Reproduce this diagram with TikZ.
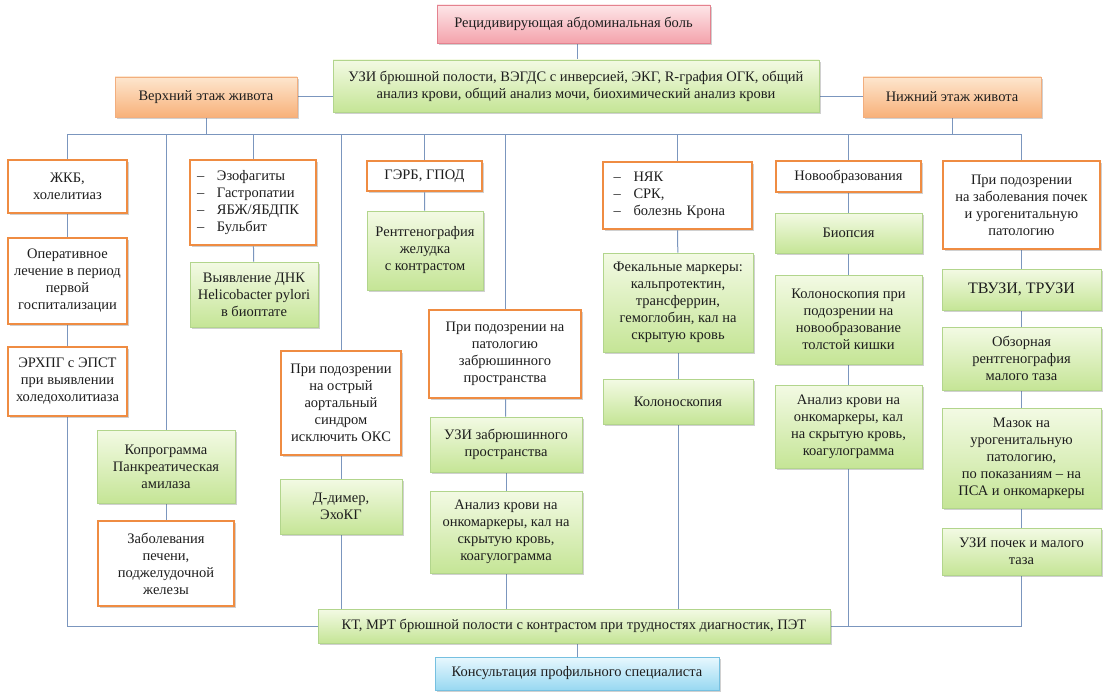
\documentclass[tikz,border=0pt]{standalone}
\usepackage{fontspec}
\setmainfont{Liberation Serif}
\usetikzlibrary{shadows,backgrounds}
\definecolor{conncol}{HTML}{7B96BE}
\definecolor{orbord}{HTML}{EF8C42}
\definecolor{grtop}{HTML}{F3FAE4}
\definecolor{grbot}{HTML}{C5E596}
\definecolor{grbord}{HTML}{B2D58C}
\definecolor{ortop}{HTML}{FDE6CE}
\definecolor{orbot}{HTML}{F8B17A}
\definecolor{orfbord}{HTML}{F2AE7E}
\definecolor{rdtop}{HTML}{FDE6E8}
\definecolor{rdbot}{HTML}{F4A3AC}
\definecolor{rdbord}{HTML}{E4828F}
\definecolor{bltop}{HTML}{E8F8FE}
\definecolor{blbot}{HTML}{98D8F1}
\definecolor{blbord}{HTML}{76C0E0}
\definecolor{txt}{HTML}{1E1E1E}
\pgfdeclarelayer{bg}
\pgfsetlayers{bg,background,main}
\newcommand\bx[7]{%
 \pgfmathsetmacro\bw{#5-#3}\pgfmathsetmacro\bh{#6-#4}%
 \pgfmathsetmacro\bcx{(#3+#5)/2}\pgfmathsetmacro\bcy{(#4+#6)/2}%
 \node[#2, minimum width=\bw pt, minimum height=\bh pt] (#1) at (\bcx,\bcy) {#7};}
\newcommand\itm[1]{\makebox[20pt][l]{–}#1}
\begin{document}
\begin{tikzpicture}[x=1pt,y=-1pt,
  every node/.style={font=\fontsize{14.5}{17}\selectfont, text=txt, inner sep=2pt, align=center},
  shd/.style={drop shadow={shadow xshift=2pt,shadow yshift=-2pt,opacity=0.3,fill=black!60}},
  diag/.style={draw=orbord, line width=2.8pt, fill=white, shd},
  exam/.style={draw=grbord, line width=0.8pt, top color=grtop, bottom color=grbot, shd},
  zone/.style={draw=orfbord, line width=0.8pt, top color=ortop, bottom color=orbot, shd},
  head/.style={draw=rdbord, line width=0.8pt, top color=rdtop, bottom color=rdbot, shd},
  final/.style={draw=blbord, line width=0.8pt, top color=bltop, bottom color=blbot, shd},
  lst/.style={diag, align=left, text width=#1pt},
  conn/.style={draw=conncol, line width=1pt}]
\useasboundingbox (0,0) rectangle (1105,698);
\begin{pgfonlayer}{bg}
\fill[white] (0,0) rectangle (1105,698);
\end{pgfonlayer}
\coordinate (bus) at (0,135);
\bx{head}{head}{437}{5}{710}{43}{Рецидивирующая абдоминальная боль}
\bx{main}{exam}{333}{60}{819}{112}{УЗИ брюшной полости, ВЭГДС с инверсией, ЭКГ, R-графия ОГК, общий\\анализ крови, общий анализ мочи, биохимический анализ крови}
\bx{verh}{zone}{115}{77}{297}{117}{Верхний этаж живота}
\bx{nizh}{zone}{863}{77}{1041}{117}{Нижний этаж живота}
% column 1
\bx{zhkb}{diag}{8}{160}{127}{213}{ЖКБ,\\холелитиаз}
\bx{oper}{diag}{8}{238}{127}{324}{Оперативное\\лечение в период\\первой\\госпитализации}
\bx{erhpg}{diag}{8}{347}{127}{416}{ЭРХПГ с ЭПСТ\\при выявлении\\холедохолитиаза}
% column 2
\bx{kopro}{exam}{97}{430}{235}{503}{Копрограмма\\Панкреатическая\\амилаза}
\bx{zabol}{diag}{98}{521}{234}{606}{Заболевания\\печени,\\поджелудочной\\железы}
% column 3
\bx{ezof}{lst=112}{190}{160}{316}{245}{\itm{Эзофагиты}\\\itm{Гастропатии}\\\itm{ЯБЖ/ЯБДПК}\\\itm{Бульбит}}
\bx{dnk}{exam}{190}{262}{318}{327}{Выявление ДНК\\Helicobacter pylori\\в биоптате}
% column 4
\bx{aort}{diag}{281}{351}{401}{455}{При подозрении\\на острый\\аортальный\\синдром\\исключить ОКС}
\bx{ddim}{exam}{280}{479}{402}{534}{Д-димер,\\ЭхоКГ}
% column 5
\bx{gerb}{diag}{367}{161}{482}{191}{ГЭРБ, ГПОД}
\bx{rentg}{exam}{367}{211}{483}{290}{Рентгенография\\желудка\\с контрастом}
% column 6
\bx{zabr}{diag}{429}{310}{581}{398}{При подозрении на\\патологию\\забрюшинного\\пространства}
\bx{uzizabr}{exam}{430}{417}{582}{472}{УЗИ забрюшинного\\пространства}
\bx{anal1}{exam}{430}{491}{582}{573}{Анализ крови на\\онкомаркеры, кал на\\скрытую кровь,\\коагулограмма}
% column 7
\bx{nyak}{lst=128}{603}{162}{752}{229}{\itm{НЯК}\\\itm{СРК,}\\\itm{болезнь Крона}}
\bx{fekal}{exam}{603}{253}{753}{352}{Фекальные маркеры:\\кальпротектин,\\трансферрин,\\гемоглобин, кал на\\скрытую кровь}
\bx{kolono}{exam}{603}{379}{753}{424}{Колоноскопия}
% column 8
\bx{novo}{diag}{776}{161}{921}{192}{Новообразования}
\bx{biop}{exam}{775}{213}{922}{253}{Биопсия}
\bx{kolpri}{exam}{775}{275}{922}{364}{Колоноскопия при\\подозрении на\\новообразование\\толстой кишки}
\bx{anal2}{exam}{775}{385}{922}{468}{Анализ крови на\\онкомаркеры, кал\\на скрытую кровь,\\коагулограмма}
% column 9
\bx{pochki}{diag}{943}{161}{1100}{249}{При подозрении\\на заболевания почек\\и урогенитальную\\патологию}
\bx{tvuzi}{exam, font=\fontsize{16}{18}\selectfont}{942}{269}{1101}{310}{ТВУЗИ, ТРУЗИ}
\bx{obzor}{exam}{942}{327}{1101}{390}{Обзорная\\рентгенография\\малого таза}
\bx{mazok}{exam}{942}{408}{1101}{508}{Мазок на\\урогенитальную\\патологию,\\по показаниям – на\\ПСА и онкомаркеры}
\bx{uzipoch}{exam}{942}{528}{1101}{575}{УЗИ почек и малого\\таза}
% bottom
\bx{kt}{exam}{318}{609}{830}{643}{КТ, МРТ брюшной полости с контрастом при трудностях диагностик, ПЭТ}
\bx{kons}{final}{435}{657}{719}{690}{Консультация профильного специалиста}
% connectors (behind the boxes)
\begin{pgfonlayer}{background}
\draw[conn] (head.south -| kons.north) -- (main.north -| kons.north);
\draw[conn] (verh.east) -- (verh.east -| main.west);
\draw[conn] (main.east |- nizh.west) -- (nizh.west);
\draw[conn] (zhkb.north) |- (pochki.north |- bus) -- (pochki.north);
\draw[conn] (verh.south) -- (verh.south |- bus);
\draw[conn] (nizh.south) -- (nizh.south |- bus);
\foreach \n in {kopro,ezof,aort,gerb,zabr,nyak,novo}
  \draw[conn] (\n.north) -- (\n.north |- bus);
\draw[conn] (zhkb) -- (oper);
\draw[conn] (oper) -- (erhpg);
\draw[conn] (erhpg.south) |- (kt.west);
\draw[conn] (kopro) -- (zabol);
\draw[conn] (ezof) -- (dnk);
\draw[conn] (aort) -- (ddim);
\draw[conn] (ddim.south) -- (ddim.south |- kt.north);
\draw[conn] (gerb) -- (rentg);
\draw[conn] (zabr) -- (uzizabr);
\draw[conn] (uzizabr) -- (anal1);
\draw[conn] (anal1.south) -- (anal1.south |- kt.north);
\draw[conn] (nyak) -- (fekal);
\draw[conn] (fekal) -- (kolono);
\draw[conn] (kolono.south) -- (kolono.south |- kt.north);
\draw[conn] (novo) -- (biop);
\draw[conn] (biop) -- (kolpri);
\draw[conn] (kolpri) -- (anal2);
\draw[conn] (anal2.south) -- (anal2.south |- kt.east);
\draw[conn] (pochki) -- (tvuzi);
\draw[conn] (tvuzi) -- (obzor);
\draw[conn] (obzor) -- (mazok);
\draw[conn] (mazok) -- (uzipoch);
\draw[conn] (uzipoch.south) |- (kt.east);
\draw[conn] (kt.south -| kons.north) -- (kons.north);
\end{pgfonlayer}
\end{tikzpicture}
\end{document}
